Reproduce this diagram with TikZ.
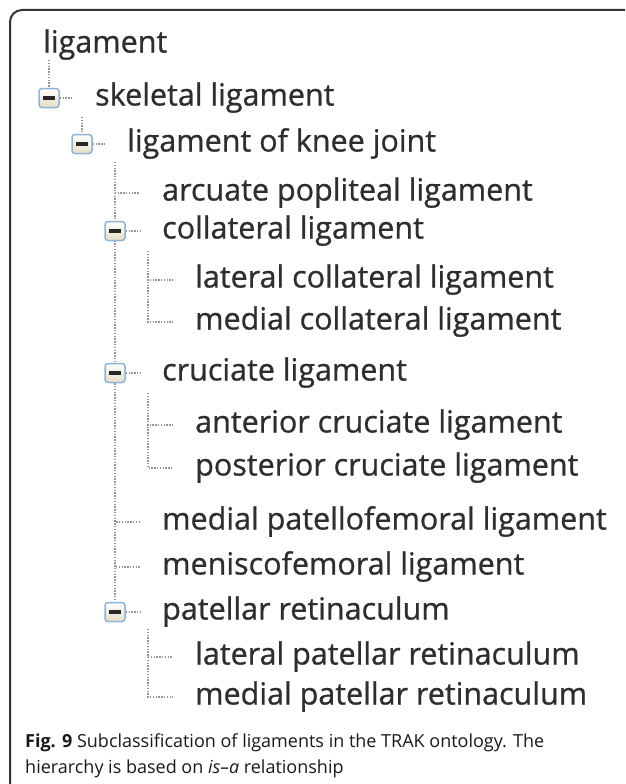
\documentclass[tikz,border=0pt]{standalone}
\usepackage{fontspec}
\setmainfont{Open Sans}
\newfontfamily\treefont[FakeBold=0.8]{Open Sans}
\usepackage{xcolor}
\usepackage{tikz}
\usetikzlibrary{backgrounds}

\definecolor{treetext}{HTML}{2E2E2E}
\definecolor{treedots}{HTML}{959595}
\definecolor{boxedge}{HTML}{8EB3D6}
\definecolor{boxfill}{HTML}{E3DCC4}
\definecolor{framecol}{HTML}{333333}

\tikzset{
  item/.style={anchor=west, inner sep=0pt, text height=21pt, text depth=6pt,
    font=\treefont\fontsize{30.5}{36}\selectfont, text=treetext},
  pm/.style={draw=boxedge, line width=1.5pt, rounded corners=3pt,
    minimum width=20pt, minimum height=19pt, inner sep=0pt,
    top color=white, bottom color=boxfill,
    path picture={\draw[line width=3.5pt, black!85]
      ([xshift=-6pt]path picture bounding box.center) -- ([xshift=6pt]path picture bounding box.center);}},
  tree/.style={draw=treedots, line width=1.4pt, dash pattern=on 1.4pt off 1.4pt},
  caption/.style={anchor=base west, inner sep=0pt, font=\fontsize{18}{26}\selectfont, text=black!90},
}

\begin{document}
\begin{tikzpicture}[x=1pt, y=-1pt]
  \useasboundingbox (0,0) rectangle (625,784);
  % --- Frame ---
  \draw[line width=2pt, framecol, rounded corners=12pt] (10,784) -- (10,10) -- (625,10);

  % --- Tree ---
  \node[item] (lig) at (43,45) {ligament};
  \node[pm] (skel-box) at (49,98) {};
  \node[item] (skel) at (95,98) {skeletal ligament};
  \node[pm] (knee-box) at (82,144) {};
  \node[item] (knee) at (127,144) {ligament of knee joint};
  % knee joint children
  \node[item] (arc) at (162,193) {arcuate popliteal ligament};
  \node[pm] (coll-box) at (115,231) {};
  \node[item] (coll) at (162,231) {collateral ligament};
  \node[item] (latcoll) at (195,280) {lateral collateral ligament};
  \node[item] (medcoll) at (195,322) {medial collateral ligament};
  \node[pm] (cruc-box) at (115,373) {};
  \node[item] (cruc) at (162,373) {cruciate ligament};
  \node[item] (antcruc) at (195,425) {anterior cruciate ligament};
  \node[item] (postcruc) at (195,468) {posterior cruciate ligament};
  \node[item] (mpfl) at (162,522) {medial patellofemoral ligament};
  \node[item] (menis) at (162,567) {meniscofemoral ligament};
  \node[pm] (pret-box) at (115,612) {};
  \node[item] (pret) at (162,612) {patellar retinaculum};
  \node[item] (latret) at (195,657) {lateral patellar retinaculum};
  \node[item] (medret) at (195,697) {medial patellar retinaculum};

  % --- Connectors ---
  \coordinate (lig-trunk) at (49,60);
  \coordinate (skel-trunk) at (82,117);
  \coordinate (knee-trunk) at (115,162);
  \coordinate (coll-trunk) at (148,251);
  \coordinate (cruc-trunk) at (148,393);
  \coordinate (pret-trunk) at (148,629);
  \begin{scope}[on background layer]
    \draw[tree] (lig-trunk) -- (skel-box.north);
    \draw[tree] (skel-trunk) -- (knee-box.north);
    \draw[tree] (knee-trunk) -- (pret-box.north);
    \foreach \n in {skel, knee, coll, cruc, pret}
      \draw[tree] (\n-box.east) -- ([xshift=-22pt]\n.west);
    \foreach \n in {arc, mpfl, menis}
      \draw[tree] (knee-trunk) |- ([xshift=-22pt]\n.west);
    \foreach \n in {latcoll, medcoll}
      \draw[tree] (coll-trunk) |- ([xshift=-22pt]\n.west);
    \foreach \n in {antcruc, postcruc}
      \draw[tree] (cruc-trunk) |- ([xshift=-22pt]\n.west);
    \foreach \n in {latret, medret}
      \draw[tree] (pret-trunk) |- ([xshift=-22pt]\n.west);
  \end{scope}

  % --- Caption ---
  \node[caption] (cap1) at (25,747) {\textbf{Fig. 9} Subclassification of ligaments in the TRAK ontology. The};
  \node[caption] (cap2) at (25,773) {hierarchy is based on \textit{is--a} relationship};
\end{tikzpicture}
\end{document}
